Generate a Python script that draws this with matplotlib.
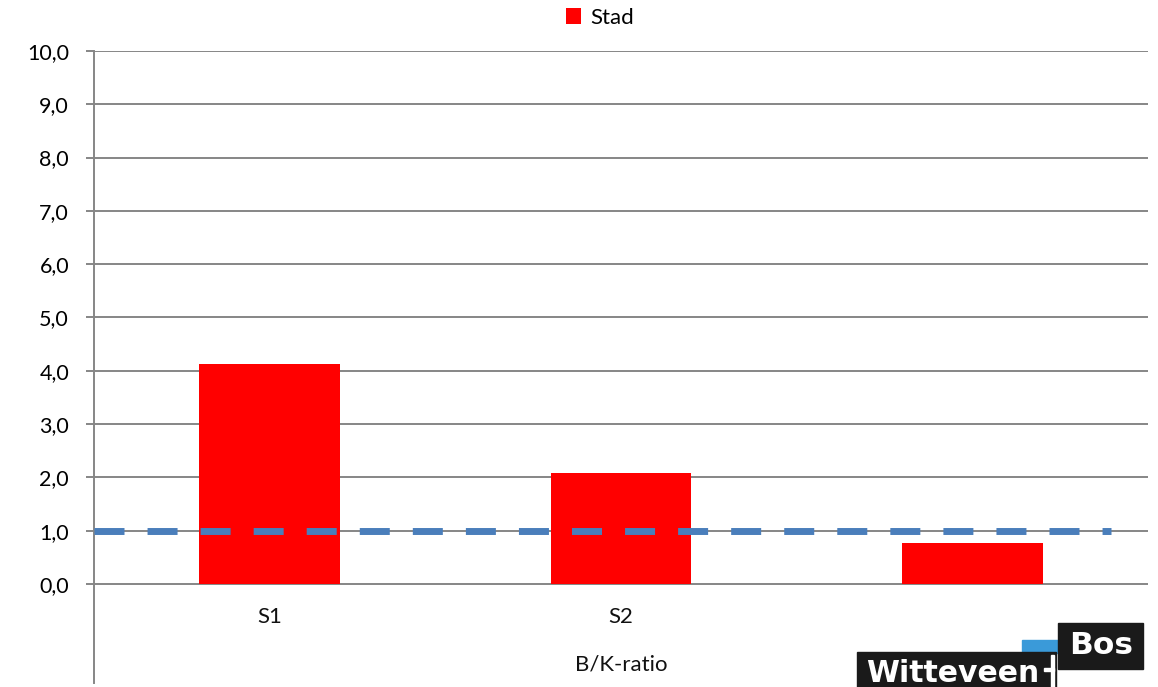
import matplotlib.pyplot as plt
from matplotlib.patches import Rectangle

plt.rcParams['font.family'] = ['Lato', 'DejaVu Sans']
plt.rcParams['lines.scale_dashes'] = False

categories = ['S1', 'S2', '']
stad = [4.12, 2.08, 0.76]
norm = 1.0
series_name = 'Stad'
y_ticks = [0, 1, 2, 3, 4, 5, 6, 7, 8, 9, 10]
y_labels = ['0,0', '1,0', '2,0', '3,0', '4,0', '5,0', '6,0', '7,0', '8,0', '9,0', '10,0']
axis_title = 'B/K-ratio'

W, H = 1158, 687
fig = plt.figure(figsize=(W / 100, H / 100), dpi=100)
ax = fig.add_axes([94 / W, 4 / H, 1054 / W, 632 / H])

grid_col = '#868686'
x = list(range(len(categories)))
bars = ax.bar(x, stad, width=0.4, color='#ff0000', label=series_name, zorder=2)

# horizontal reference line (B/K = 1)
ax.axhline(norm, xmin=0, xmax=0.965, color='#4a7ebb', lw=5, dashes=(21.6, 16.6),
           solid_capstyle='butt', dash_capstyle='butt', zorder=3)

ax.set_xlim(-0.5, len(categories) - 0.5)
ax.set_ylim(-1.86, 10)
ax.set_yticks(y_ticks)
ax.set_yticklabels(y_labels, fontsize=15.5)
ax.set_xticks([])
ax.tick_params(axis='y', length=6, width=1.4, color=grid_col, pad=12)
ax.yaxis.grid(True, color=grid_col, lw=1.4, zorder=0)
ax.set_axisbelow(True)
for side in ['top', 'right', 'bottom']:
    ax.spines[side].set_visible(False)
ax.spines['left'].set_color(grid_col)
ax.spines['left'].set_linewidth(1.4)

for xi, lab in zip(x, categories):
    ax.text(xi, -0.62, lab, ha='center', va='center', fontsize=16, color='#111111')
ax.text(1, -1.52, axis_title, ha='center', va='center', fontsize=16, color='#111111')

fig.legend(handles=[bars], labels=[series_name], loc='center', bbox_to_anchor=(600 / W, 1 - 18 / H),
           frameon=False, fontsize=16, handlelength=0.7, handleheight=0.7, handletextpad=0.4)

# company logo, bottom right
def fig_rect(x0, y0, x1, y1, color):
    fig.patches.append(Rectangle((x0 / W, 1 - y1 / H), (x1 - x0) / W, (y1 - y0) / H,
                                 transform=fig.transFigure, color=color, zorder=5))

fig_rect(1022, 640, 1058, 653, '#3a9ad9')
fig_rect(857, 652, 1056, 687, '#1a1a1a')
fig_rect(1058, 623, 1143, 669, '#1a1a1a')
fig_rect(1051, 655, 1054, 687, 'white')
fig_rect(1044, 668, 1054, 671, 'white')
fig.text(953 / W, 1 - 673 / H, 'Witteveen', ha='center', va='center', fontsize=21.5,
         fontweight='bold', color='white', family='DejaVu Sans', zorder=6)
fig.text(1101 / W, 1 - 646 / H, 'Bos', ha='center', va='center', fontsize=22.5,
         fontweight='bold', color='white', family='DejaVu Sans', zorder=6)

fig.savefig('out.png', dpi=100)
